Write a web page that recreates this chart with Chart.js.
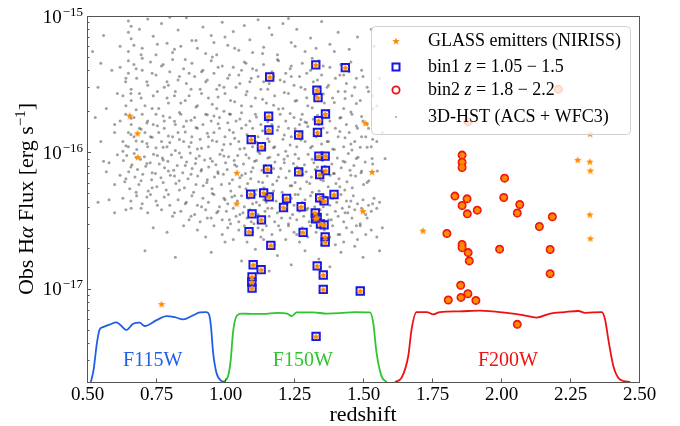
<!DOCTYPE html>
<html lang="en">
<head>
<meta charset="UTF-8">
<title>GLASS H-alpha emitters vs redshift</title>
<script src="https://cdn.jsdelivr.net/npm/chart.js"></script>
<style>
  html, body { margin: 0; padding: 0; background: #fff; }
  #wrap { width: 680px; height: 426px; }
</style>
</head>
<body>
<div id="wrap"><canvas id="chart" width="680" height="426"></canvas></div>
<script>
// ---- data: [redshift, flux in units of 1e-17 erg s^-1 cm^-2] ----
const xTicks = [0.5, 0.75, 1.0, 1.25, 1.5, 1.75, 2.0, 2.25, 2.5];
const yTickExp = [-17, -16, -15];
const yMin = 2.07e-18, yMax = 1e-15;

// GLASS emitters outside the two bins
const glassOnly = [
  [0.655,18.6],[0.683,13.8],[0.685,9.22],[1.043,7.08],[1.042,4.22],[1.509,16.4],[1.533,7.20],[1.500,3.71],
  [2.323,13.7],[2.278,8.81],[2.322,8.56],[2.324,7.36],[2.322,3.50],[2.324,2.34],[1.717,2.67],[0.770,0.772]
];

// bin1 z = 1.05 - 1.5
const bin1 = [
  [1.329,43.8],[1.436,41.8],[1.162,35.7],[1.333,28.6],[1.337,25.2],[1.364,19.1],[1.158,18.4],[1.339,17.1],
  [1.159,14.6],[1.335,14.0],[1.267,13.4],[1.095,12.4],[1.132,11.0],[1.340,9.38],[1.363,9.38],[1.154,7.53],
  [1.267,7.20],[1.364,7.36],[1.343,6.88],[1.093,4.94],[1.140,5.05],[1.160,4.72],[1.223,4.59],[1.212,3.94],
  [1.276,3.99],[1.343,4.64],[1.359,4.41],[1.395,4.91],[1.098,3.54],[1.132,3.20],[1.327,3.59],[1.328,3.26],
  [1.334,3.33],[1.346,2.99],[1.359,2.94],[1.087,2.62],[1.283,2.59],[1.363,2.40],[1.363,2.20],[1.166,2.08],
  [1.102,1.50],[1.131,1.38],[1.334,1.47],[1.356,1.26],[1.098,1.22],[1.097,1.12],[1.098,1.01],[1.356,0.988],
  [1.490,0.962],[1.330,0.447]
];

// bin2 z = 1.8 - 2.2
const bin2 = [
  [1.859,9.55],[1.859,8.48],[1.859,7.74],[2.013,6.47],[1.833,4.78],[1.877,4.56],[1.859,4.08],[1.914,3.77],
  [1.878,3.54],[2.010,4.67],[2.068,4.15],[2.059,3.59],[2.186,3.37],[2.139,2.86],[1.804,2.54],[1.859,2.11],
  [1.859,2.00],[1.881,1.84],[1.885,1.60],[1.995,1.95],[2.178,1.94],[2.178,1.29],[1.854,1.06],[1.809,0.827],
  [1.855,0.864],[1.880,0.919],[1.909,0.821],[2.059,0.548],[2.208,29.0],[1.881,16.8]
];

// 3D-HST (ACS + WFC3) field sample
const hstPoints = [
  [0.65,92],[0.66,84],[0.65,76],[0.66,68],[0.67,61],[0.65,55],[0.72,95],[0.74,71],[0.77,88],[0.79,63],
  [0.81,54],[0.83,79],[0.86,97],[0.88,66],[0.9,58],[0.92,83],[0.95,72],[0.97,52],[0.99,90],[1.01,61],
  [1.03,77],[1.05,56],[1.07,85],[1.09,67],[1.12,94],[1.14,59],[1.17,73],[1.19,52],[1.21,88],[1.24,64],
  [1.26,80],[1.29,55],[1.31,69],[1.35,91],[1.38,62],[1.41,76],[1.45,57],[1.48,70],[0.7,58],[0.75,52],
  [0.84,60],[0.93,53],[1.0,70],[1.1,54],[1.23,96],[1.33,58],[0.69,80],[0.8,98],[0.96,64],[1.16,82],
  [0.62,42],[0.64,33],[0.65,47],[0.65,38],[0.66,29],[0.66,24],[0.67,44],[0.68,35],[0.69,27],[0.7,40],
  [0.71,22],[0.72,31],[0.73,46],[0.74,26],[0.75,37],[0.76,21],[0.77,43],[0.78,30],[0.79,25],[0.8,39],
  [0.81,48],[0.82,28],[0.83,34],[0.84,23],[0.85,41],[0.86,32],[0.87,26],[0.88,45],[0.89,36],[0.9,22],
  [0.91,29],[0.92,40],[0.93,33],[0.94,25],[0.95,47],[0.96,38],[0.97,21],[0.98,31],[0.99,43],[1.0,27],
  [1.01,35],[1.02,24],[1.03,42],[1.04,30],[1.05,37],[1.06,22],[1.07,46],[1.08,28],[1.09,33],[1.1,41],
  [1.11,25],[1.12,36],[1.13,29],[1.14,44],[1.15,23],[1.16,32],[1.17,39],[1.18,26],[1.19,48],[1.2,34],
  [1.21,21],[1.22,38],[1.23,27],[1.24,43],[1.25,31],[1.26,24],[1.27,36],[1.28,45],[1.29,29],[1.3,22],
  [1.31,40],[1.32,33],[1.33,26],[1.34,47],[1.35,37],[1.36,23],[1.37,30],[1.38,42],[1.39,25],[1.4,35],
  [1.41,28],[1.42,44],[1.43,21],[1.44,32],[1.45,39],[1.46,26],[1.47,30],[1.49,24],[1.5,36],[0.63,26],
  [0.7,49],[0.79,33],[0.87,38],[0.97,29],[1.06,40],[1.14,33],[1.24,36],[1.34,30],[1.43,37],[1.52,28],
  [0.62,17],[0.63,12],[0.64,19],[0.65,14],[0.65,11],[0.66,16],[0.67,13],[0.67,18],[0.68,10.5],[0.69,15],
  [0.7,12],[0.7,19],[0.71,14],[0.72,17],[0.72,11],[0.73,13],[0.74,16],[0.75,19],[0.75,10.8],[0.76,14],
  [0.77,12],[0.78,17],[0.78,15],[0.79,11],[0.8,18],[0.81,13],[0.82,16],[0.82,10.3],[0.83,14],[0.84,19],
  [0.85,12],[0.85,15.5],[0.86,17],[0.87,11],[0.88,13],[0.89,18],[0.9,15],[0.9,10.6],[0.91,12.5],[0.92,16],
  [0.93,19],[0.94,13],[0.94,11],[0.95,17],[0.96,14],[0.97,12],[0.98,18],[0.98,15],[0.99,10.4],[1.0,13],
  [1.01,16.5],[1.02,19],[1.02,11.5],[1.03,14],[1.04,17],[1.05,12],[1.06,15],[1.06,19.5],[1.07,10.7],[1.08,13.5],
  [1.09,17],[1.1,15],[1.1,11],[1.11,19],[1.12,13],[1.13,16],[1.14,10.5],[1.15,14],[1.15,18],[1.16,12],
  [1.17,16],[1.18,11],[1.19,14.5],[1.2,19],[1.21,12.5],[1.22,17],[1.22,10.2],[1.23,15],[1.24,13],[1.25,18],
  [1.26,11],[1.27,16],[1.27,14],[1.28,19],[1.29,12],[1.3,15.5],[1.31,10.8],[1.32,17.5],[1.33,13],[1.34,16],
  [1.35,11.5],[1.36,19],[1.37,14],[1.37,12],[1.38,17],[1.39,10.6],[1.4,15],[1.41,13],[1.42,18],[1.43,11],
  [1.44,16],[1.45,14],[1.46,19],[1.47,12],[1.48,15],[1.49,10.9],[1.5,17],[1.51,13],[1.52,15],[1.53,11],
  [0.6,14],[0.63,10.2],[0.8,11.8],[0.96,18.5],[1.12,10.1],[1.29,16.7],[1.46,10.4],[1.55,12],
  [0.632,8.7],[0.637,6.1],[0.644,9.5],[0.651,7.2],[0.655,5.4],[0.663,8.1],[0.671,9.8],[0.674,6.6],[0.683,7.5],[0.688,5.8],
  [0.694,8.9],[0.702,6.9],[0.708,9.3],[0.713,7.9],[0.722,5.2],[0.729,8.4],[0.734,6.3],[0.741,9.7],[0.748,7.0],[0.753,5.6],
  [0.762,8.2],[0.768,6.5],[0.773,9.1],[0.781,7.7],[0.787,5.3],[0.793,8.6],[0.802,6.8],[0.806,9.6],[0.814,7.4],[0.822,5.9],
  [0.827,8.0],[0.834,6.2],[0.842,9.2],[0.847,7.1],[0.853,5.5],[0.861,8.5],[0.866,6.4],[0.874,9.9],[0.881,7.6],[0.886,5.1],
  [0.893,8.3],[0.901,6.7],[0.907,9.4],[0.913,7.3],[0.921,5.7],[0.926,8.8],[0.934,6.0],[0.941,7.8],[0.947,9.0],[0.953,5.4],
  [0.962,6.6],[0.967,8.1],[0.974,7.2],[0.982,9.7],[0.987,5.8],[0.994,6.9],[1.002,8.4],[1.008,7.5],[1.013,9.3],[1.021,5.2],
  [1.027,6.3],[1.033,8.7],[1.042,7.9],[1.046,9.5],[1.053,5.6],[1.061,6.8],[1.067,8.2],[1.074,7.0],[1.082,5.9],[1.087,9.1],
  [1.093,6.4],[1.101,7.7],[1.107,8.6],[1.114,5.3],[1.122,6.1],[1.126,9.8],[1.134,7.4],[1.141,5.5],[1.147,8.0],[1.153,6.7],
  [1.162,9.2],[1.168,7.1],[1.173,5.8],[1.181,8.5],[1.188,6.2],[1.193,9.6],[1.202,7.6],[1.207,5.1],[1.214,8.9],[1.221,6.5],
  [1.227,9.4],[1.233,7.3],[1.242,5.7],[1.248,8.3],[1.254,6.0],[1.261,7.8],[1.267,9.0],[1.273,5.4],[1.282,6.9],[1.288,8.1],
  [1.294,7.2],[1.301,9.7],[1.307,5.9],[1.313,6.6],[1.322,8.4],[1.327,7.5],[1.334,9.3],[1.341,5.2],[1.347,6.3],[1.353,8.7],
  [1.362,7.9],[1.366,9.5],[1.374,5.6],[1.381,6.8],[1.387,8.2],[1.393,7.0],[1.402,5.9],[1.407,9.1],[1.413,6.4],[1.421,7.7],
  [1.428,8.6],[1.434,5.3],[1.442,6.1],[1.447,9.8],[1.453,7.4],[1.461,5.5],[1.467,8.0],[1.473,6.7],[1.482,9.2],[1.493,7.1],
  [1.502,5.8],[1.508,8.5],[1.521,6.2],[1.533,9.0],[1.552,7.3],
  [0.63,4.6],[0.66,3.9],[0.68,4.8],[0.7,4.2],[0.72,3.6],[0.73,4.9],[0.75,4.4],[0.77,3.8],[0.78,4.7],[0.8,4.1],
  [0.81,3.4],[0.83,4.5],[0.84,3.7],[0.86,4.3],[0.87,3.2],
  [0.88,4.8],[0.89,3.5],[0.9,4.1],[0.91,3.1],[0.92,4.6],[0.93,3.8],[0.94,4.3],[0.95,3.3],[0.96,4.9],[0.97,3.6],
  [0.98,4.0],[0.99,3.2],[1.0,4.5],[1.005,3.7],[1.01,4.2],[1.02,3.0],[1.025,4.7],[1.03,3.9],[1.04,3.4],[1.045,4.4],
  [1.05,3.1],[1.06,4.8],[1.065,3.6],[1.07,4.0],[1.08,3.3],[1.085,4.6],[1.09,3.8],[1.1,4.2],[1.105,3.0],[1.11,4.9],
  [1.12,3.5],[1.125,4.1],[1.13,3.2],[1.14,4.5],[1.145,3.7],[1.15,4.3],[1.16,3.4],[1.165,4.8],[1.17,3.9],[1.18,3.1],
  [1.185,4.4],[1.19,3.6],[1.2,4.0],[1.205,3.3],[1.21,4.7],[1.22,3.8],[1.225,4.2],[1.23,3.0],[1.24,4.6],[1.245,3.5],
  [1.25,4.1],[1.26,3.2],[1.265,4.9],[1.27,3.7],[1.28,4.3],[1.285,3.4],[1.29,4.5],[1.3,3.9],[1.305,3.1],[1.31,4.8],
  [1.32,3.6],[1.325,4.0],[1.33,3.3],[1.34,4.4],[1.345,3.8],[1.35,4.2],[1.36,3.0],[1.365,4.7],[1.37,3.5],[1.38,4.1],
  [1.385,3.2],[1.39,4.6],[1.4,3.7],[1.405,4.3],[1.41,3.4],[1.42,4.9],[1.425,3.9],[1.43,3.1],[1.44,4.4],[1.445,3.6],
  [1.45,4.0],[1.46,3.3],[1.465,4.8],[1.47,3.8],[1.48,4.2],[1.49,3.0],[1.5,4.5],[1.51,3.5],[1.52,4.1],[1.53,3.7],
  [1.54,4.6],[1.55,3.9],[1.56,4.3],
  [0.74,2.8],[0.79,2.6],[0.85,2.9],[0.9,2.7],[0.93,2.4],[0.96,2.9],[0.99,2.5],[1.01,2.8],[1.03,2.3],[1.05,2.7],
  [1.07,2.9],[1.08,2.2],[1.1,2.6],[1.12,2.8],[1.13,2.4],[1.15,2.9],[1.17,2.5],[1.18,2.1],[1.2,2.7],[1.22,2.3],
  [1.23,2.9],[1.25,2.6],[1.27,2.2],[1.28,2.8],[1.3,2.4],[1.31,2.9],[1.33,2.6],[1.35,2.1],[1.36,2.7],[1.38,2.4],
  [1.39,2.9],[1.41,2.5],[1.43,2.2],[1.44,2.8],[1.46,2.6],[1.48,2.3],[1.49,2.9],[1.51,2.5],[1.53,2.7],[1.55,2.4],
  [1.57,2.8],[1.0,2.2],[1.14,2.3],[1.26,2.5],[1.4,2.1],[1.47,2.05],
  [0.71,1.9],[0.82,1.7],[0.95,1.85],[1.06,1.6],[1.11,1.95],[1.19,1.75],[1.24,1.5],[1.29,1.9],[1.34,1.65],[1.42,1.85],
  [1.5,1.7],[1.56,1.9],[1.16,1.35],[1.38,1.45],[1.1,1.2],
  [0.52,55],[0.54,30],[0.55,12],[0.56,72],[0.57,21],[0.58,8.4],[0.59,40],[0.6,5.8],[0.6,16],[0.61,27],
  [0.61,9.6],[0.62,6.8],[0.53,18],[0.58,4.5],[0.55,45],[0.6,3.6],[0.57,7.2],[0.62,60],[0.54,4.3],[0.56,8.6],
  [1.54,60],[1.56,35],[1.55,22],[1.57,14],[1.58,9],[1.53,80]
];

// more of the dense 3D-HST core, read column by column
const hstCore = [
  [0.641,3.8],[0.641,6.4],[0.641,11.2],[0.641,22],[0.641,35],
  [0.659,4.4],[0.659,7.8],[0.659,13.5],[0.659,17.8],[0.659,27],
  [0.678,5.1],[0.678,9.2],[0.678,12.1],[0.678,20.5],[0.678,41],
  [0.696,3.9],[0.696,6.2],[0.696,14.8],[0.696,25],[0.696,52],
  [0.717,4.7],[0.717,8.3],[0.717,11.6],[0.717,16.4],[0.717,33],
  [0.736,5.5],[0.736,7.1],[0.736,12.9],[0.736,21],[0.736,38],
  [0.755,4.1],[0.755,9.5],[0.755,15.7],[0.755,28],[0.755,62],
  [0.776,6.0],[0.776,8.8],[0.776,10.9],[0.776,18.5],[0.776,44],
  [0.795,4.9],[0.795,7.3],[0.795,13.2],[0.795,23],[0.795,31],
  [0.817,3.6],[0.817,6.7],[0.817,16.9],[0.817,26],[0.817,57],
  [0.835,5.3],[0.835,9.9],[0.835,12.4],[0.835,19.6],[0.835,36],
  [0.856,4.2],[0.856,8.0],[0.856,14.1],[0.856,24],[0.856,48],
  [0.877,3.4],[0.877,6.9],[0.877,11.8],[0.877,17.2],[0.877,29],
  [0.895,5.8],[0.895,9.0],[0.895,15.2],[0.895,21.5],[0.895,66],
  [0.915,4.0],[0.915,7.5],[0.915,10.7],[0.915,27],[0.915,39],
  [0.936,3.3],[0.936,6.3],[0.936,13.8],[0.936,18.9],[0.936,34],
  [0.954,5.0],[0.954,8.6],[0.954,12.2],[0.954,22.5],[0.954,50],
  [0.975,3.7],[0.975,7.0],[0.975,16.2],[0.975,25.5],[0.975,42],
  [0.996,4.6],[0.996,9.4],[0.996,11.4],[0.996,20],[0.996,30],
  [1.016,3.2],[1.016,5.9],[1.016,14.6],[1.016,19.1],[1.016,37],
  [1.035,4.8],[1.035,8.1],[1.035,12.7],[1.035,23.5],[1.035,58],
  [1.054,3.5],[1.054,6.5],[1.054,10.6],[1.054,17.6],[1.054,32],
  [1.076,5.4],[1.076,9.6],[1.076,15.9],[1.076,26.5],[1.076,45],
  [1.095,3.1],[1.095,7.2],[1.095,13.1],[1.095,21.8],[1.095,35],
  [1.114,4.3],[1.114,8.7],[1.114,11.9],[1.114,18.2],[1.114,40],
  [1.136,2.7],[1.136,6.0],[1.136,14.4],[1.136,24.5],[1.136,53],
  [1.155,3.9],[1.155,9.1],[1.155,12.6],[1.155,16.8],[1.155,29],
  [1.176,5.2],[1.176,7.6],[1.176,10.8],[1.176,22.2],[1.176,36],
  [1.194,2.9],[1.194,6.6],[1.194,15.4],[1.194,20.8],[1.194,47],
  [1.215,4.5],[1.215,8.4],[1.215,13.4],[1.215,27.5],[1.215,33],
  [1.236,3.3],[1.236,5.7],[1.236,11.3],[1.236,19.3],[1.236,41],
  [1.254,4.9],[1.254,9.7],[1.254,14.9],[1.254,23.8],[1.254,60],
  [1.275,2.6],[1.275,7.4],[1.275,12.3],[1.275,17.4],[1.275,30],
  [1.296,3.8],[1.296,6.1],[1.296,16.5],[1.296,25.2],[1.296,38],
  [1.316,5.1],[1.316,8.9],[1.316,11.1],[1.316,21.2],[1.316,49],
  [1.335,2.8],[1.335,7.8],[1.335,13.7],[1.335,18.7],[1.335,34],
  [1.356,4.0],[1.356,6.2],[1.356,15.1],[1.356,26.8],[1.356,43],
  [1.375,3.2],[1.375,9.3],[1.375,12.0],[1.375,20.3],[1.375,31],
  [1.396,4.7],[1.396,7.0],[1.396,10.5],[1.396,23.2],[1.396,55],
  [1.416,2.5],[1.416,5.6],[1.416,14.2],[1.416,17.9],[1.416,37],
  [1.435,3.6],[1.435,8.5],[1.435,12.8],[1.435,24.8],[1.435,28],
  [1.456,4.4],[1.456,6.8],[1.456,11.5],[1.456,19.8],[1.456,46],
  [1.476,2.9],[1.476,9.0],[1.476,15.6],[1.476,22.8],[1.476,35],
  [1.495,3.9],[1.495,7.3],[1.495,13.0],[1.495,18.3],[1.495,40],
  [1.515,3.3],[1.515,6.0],[1.515,10.9],[1.515,16.1],[1.515,30],
  [1.535,4.2],[1.535,8.2],[1.535,12.5],[1.535,21.0],[1.535,26]
];

// filter throughput curves (fraction of the panel height)
const filterNames = ['F115W', 'F150W', 'F200W'];
const filterColors = ['#1f5fe8', '#2ec52e', '#ee1111'];
const filterLabelZ = [0.738, 1.282, 2.025];
const filterLabelT = 0.059;
const f115wZ = [0.514,0.524,0.536,0.546,0.558,0.582,0.607,0.622,0.643,0.667,0.691,0.709,0.752,0.788,0.818,0.848,0.884,0.909,0.933,0.942,0.949,0.957,0.969,0.987,1.0];
const f115wT = [0,0.034,0.107,0.144,0.150,0.157,0.163,0.155,0.142,0.159,0.162,0.153,0.169,0.180,0.177,0.171,0.182,0.190,0.191,0.185,0.153,0.080,0.025,0.003,0];
const f150wZ = [0.993,1.011,1.021,1.029,1.042,1.06,1.1,1.138,1.19,1.225,1.241,1.26,1.319,1.37,1.416,1.47,1.525,1.537,1.549,1.567,1.586];
const f150wT = [0,0.016,0.062,0.135,0.180,0.187,0.186,0.186,0.189,0.187,0.180,0.190,0.190,0.187,0.188,0.191,0.190,0.162,0.080,0.016,0];
const f200wZ = [1.616,1.640,1.664,1.676,1.694,1.731,1.755,1.779,1.85,1.924,2.021,2.08,2.129,2.178,2.23,2.280,2.305,2.365,2.377,2.389,2.407,2.431,2.468];
const f200wT = [0,0.012,0.071,0.144,0.191,0.191,0.185,0.191,0.193,0.195,0.189,0.183,0.176,0.187,0.191,0.194,0.189,0.191,0.171,0.116,0.044,0.007,0];

const SERIF = '"Liberation Serif", "DejaVu Serif", serif';
const ORANGE = '#ff8c00', BLUE = '#1515e6', RED = '#ee1111';

function toXY(list) { return list.map(p => ({ x: p[0], y: p[1] * 1e-17 })); }
function curve(zs, ts) { return zs.map((z, i) => ({ x: z, y: ts[i] })); }

function makeStar(size, color) {
  const c = document.createElement('canvas');
  c.width = c.height = size;
  const g = c.getContext('2d');
  const R = size / 2, r = R * 0.42;
  g.beginPath();
  for (let i = 0; i < 10; i++) {
    const a = -Math.PI / 2 + i * Math.PI / 5, rr = i % 2 ? r : R;
    g.lineTo(R + rr * Math.cos(a), R + 0.4 + rr * Math.sin(a));
  }
  g.closePath();
  g.fillStyle = color;
  g.fill();
  return c;
}
const starImg = makeStar(8, ORANGE);

// draw "10" with a superscript exponent, right-aligned at xr
function drawPow(ctx, xr, y, exp) {
  const sup = '\u2212' + Math.abs(exp);
  ctx.textBaseline = 'alphabetic';
  ctx.textAlign = 'left';
  ctx.font = '13px ' + SERIF;
  const ws = ctx.measureText(sup).width;
  ctx.font = '19px ' + SERIF;
  const wm = ctx.measureText('10').width;
  const x0 = xr - ws - wm - 1;
  ctx.fillText('10', x0, y + 6.5);
  ctx.font = '13px ' + SERIF;
  ctx.fillText(sup, x0 + wm + 1, y - 0.5);
}

function drawPieces(ctx, x, y, pieces) {
  for (const p of pieces) {
    ctx.font = p.f;
    ctx.fillText(p.t, x, y + (p.dy || 0));
    x += ctx.measureText(p.t).width;
  }
  return x;
}
function piecesWidth(ctx, pieces) {
  let w = 0;
  for (const p of pieces) { ctx.font = p.f; w += ctx.measureText(p.t).width; }
  return w;
}

const decor = {
  id: 'decor',
  afterDatasetsDraw(chart) {
    const ctx = chart.ctx;
    const xs = chart.scales.x, ts = chart.scales.yT;
    ctx.save();

    // filter labels
    ctx.font = '20px ' + SERIF;
    ctx.textAlign = 'center';
    ctx.textBaseline = 'middle';
    filterNames.forEach((n, i) => {
      ctx.fillStyle = filterColors[i];
      ctx.fillText(n, xs.getPixelForValue(filterLabelZ[i]), ts.getPixelForValue(filterLabelT));
    });

    // legend box
    const bx = 371, by = 26, bw = 259, bh = 108;
    ctx.beginPath();
    ctx.roundRect(bx + 0.5, by + 0.5, bw, bh, 4);
    ctx.fillStyle = 'rgba(255,255,255,0.8)';
    ctx.fill();
    ctx.strokeStyle = '#d0d0d0';
    ctx.lineWidth = 1;
    ctx.stroke();

    const mx = 396, tx = 428, rows = [41, 67, 90, 117];
    ctx.drawImage(starImg, mx - 4, rows[0] - 4);
    ctx.strokeStyle = BLUE; ctx.lineWidth = 2;
    ctx.strokeRect(mx - 3.5, rows[1] - 3.5, 7, 7);
    ctx.strokeStyle = RED; ctx.lineWidth = 1.8;
    ctx.beginPath(); ctx.arc(mx, rows[2], 3.6, 0, Math.PI * 2); ctx.stroke();
    ctx.fillStyle = 'rgba(70,70,70,0.5)';
    ctx.beginPath(); ctx.arc(mx, rows[3], 1, 0, Math.PI * 2); ctx.fill();

    ctx.fillStyle = '#000';
    ctx.textAlign = 'left';
    ctx.textBaseline = 'middle';
    const fr = '18px ' + SERIF, fi = 'italic 18px ' + SERIF;
    drawPieces(ctx, tx, rows[0], [{ t: 'GLASS emitters (NIRISS)', f: fr }]);
    drawPieces(ctx, tx, rows[1], [{ t: 'bin1 ', f: fr }, { t: 'z', f: fi }, { t: ' = 1.05 \u2212 1.5', f: fr }]);
    drawPieces(ctx, tx, rows[2], [{ t: 'bin2 ', f: fr }, { t: 'z', f: fi }, { t: ' = 1.8 \u2212 2.2', f: fr }]);
    drawPieces(ctx, tx, rows[3], [{ t: '3D-HST (ACS + WFC3)', f: fr }]);
    ctx.restore();
  },
  afterDraw(chart) {
    const ctx = chart.ctx, a = chart.chartArea;
    const xs = chart.scales.x, ys = chart.scales.y;
    ctx.save();
    ctx.strokeStyle = '#555';
    ctx.lineWidth = 1;
    ctx.strokeRect(a.left + 0.5, a.top + 0.5, a.right - a.left, a.bottom - a.top);

    // x ticks
    ctx.fillStyle = '#000';
    ctx.font = '19px ' + SERIF;
    ctx.textAlign = 'center';
    ctx.textBaseline = 'alphabetic';
    ctx.beginPath();
    xTicks.forEach(v => {
      const px = Math.round(xs.getPixelForValue(v)) + 0.5;
      ctx.moveTo(px, a.bottom); ctx.lineTo(px, a.bottom - 3.5);
      ctx.fillText(v.toFixed(2), px, a.bottom + 18);
    });
    // y ticks (major + minor)
    yTickExp.forEach(e => {
      const py = Math.round(ys.getPixelForValue(Math.pow(10, e))) + 0.5;
      ctx.moveTo(a.left, py); ctx.lineTo(a.left + 4, py);
    });
    for (let e = -18; e <= -16; e++) {
      for (let m = 2; m <= 9; m++) {
        const v = m * Math.pow(10, e);
        if (v < yMin || v > yMax) continue;
        const py = Math.round(ys.getPixelForValue(v)) + 0.5;
        ctx.moveTo(a.left, py); ctx.lineTo(a.left + 2.5, py);
      }
    }
    ctx.stroke();
    yTickExp.forEach(e => drawPow(ctx, a.left - 4, ys.getPixelForValue(Math.pow(10, e)), e));

    // axis titles
    ctx.font = '22px ' + SERIF;
    ctx.textAlign = 'center';
    ctx.fillText('redshift', (a.left + a.right) / 2, 421);

    const fr = '22px ' + SERIF;
    const title = [
      { t: 'Obs H', f: fr }, { t: '\u03b1', f: 'italic 22px ' + SERIF }, { t: ' Flux [erg s', f: fr },
      { t: '\u22121', f: '15px ' + SERIF, dy: -8 }, { t: ']', f: fr }
    ];
    ctx.translate(32.5, (a.top + a.bottom) / 2);
    ctx.rotate(-Math.PI / 2);
    ctx.textAlign = 'left';
    const w = piecesWidth(ctx, title);
    drawPieces(ctx, -w / 2, 0, title);
    ctx.restore();
  }
};

const allStars = glassOnly.concat(bin1, bin2);
const allHst = hstPoints.concat(hstCore);

new Chart(document.getElementById('chart'), {
  type: 'scatter',
  data: {
    datasets: [
      { label: 'GLASS emitters (NIRISS)', data: toXY(allStars), pointStyle: starImg, order: 0 },
      { label: 'bin2 z = 1.8 - 2.2', data: toXY(bin2), pointStyle: 'circle', pointRadius: 3.6,
        borderColor: RED, backgroundColor: ORANGE, borderWidth: 1.8, order: 1 },
      { label: 'bin1 z = 1.05 - 1.5', data: toXY(bin1), pointStyle: 'rect', pointRadius: 5.2,
        borderColor: BLUE, backgroundColor: 'rgba(0,0,0,0)', borderWidth: 2, order: 2 },
      { label: 'F115W', data: curve(f115wZ, f115wT), yAxisID: 'yT', showLine: true, pointRadius: 0,
        borderColor: filterColors[0], borderWidth: 1.8, cubicInterpolationMode: 'monotone', order: 3 },
      { label: 'F150W', data: curve(f150wZ, f150wT), yAxisID: 'yT', showLine: true, pointRadius: 0,
        borderColor: filterColors[1], borderWidth: 1.8, cubicInterpolationMode: 'monotone', order: 3 },
      { label: 'F200W', data: curve(f200wZ, f200wT), yAxisID: 'yT', showLine: true, pointRadius: 0,
        borderColor: filterColors[2], borderWidth: 1.8, cubicInterpolationMode: 'monotone', order: 3 },
      { label: '3D-HST (ACS + WFC3)', data: toXY(allHst), pointRadius: 1.5, borderWidth: 0,
        backgroundColor: 'rgba(45,45,45,0.45)', order: 4 }
    ]
  },
  options: {
    responsive: false,
    animation: false,
    layout: { padding: { left: 87, right: 41, top: 16, bottom: 44 } },
    plugins: { legend: { display: false }, tooltip: { enabled: false } },
    scales: {
      x: { type: 'linear', min: 0.5, max: 2.5, display: false },
      y: { type: 'logarithmic', min: yMin, max: yMax, display: false },
      yT: { type: 'linear', min: 0, max: 1, display: false }
    }
  },
  plugins: [decor]
});
</script>
</body>
</html>
